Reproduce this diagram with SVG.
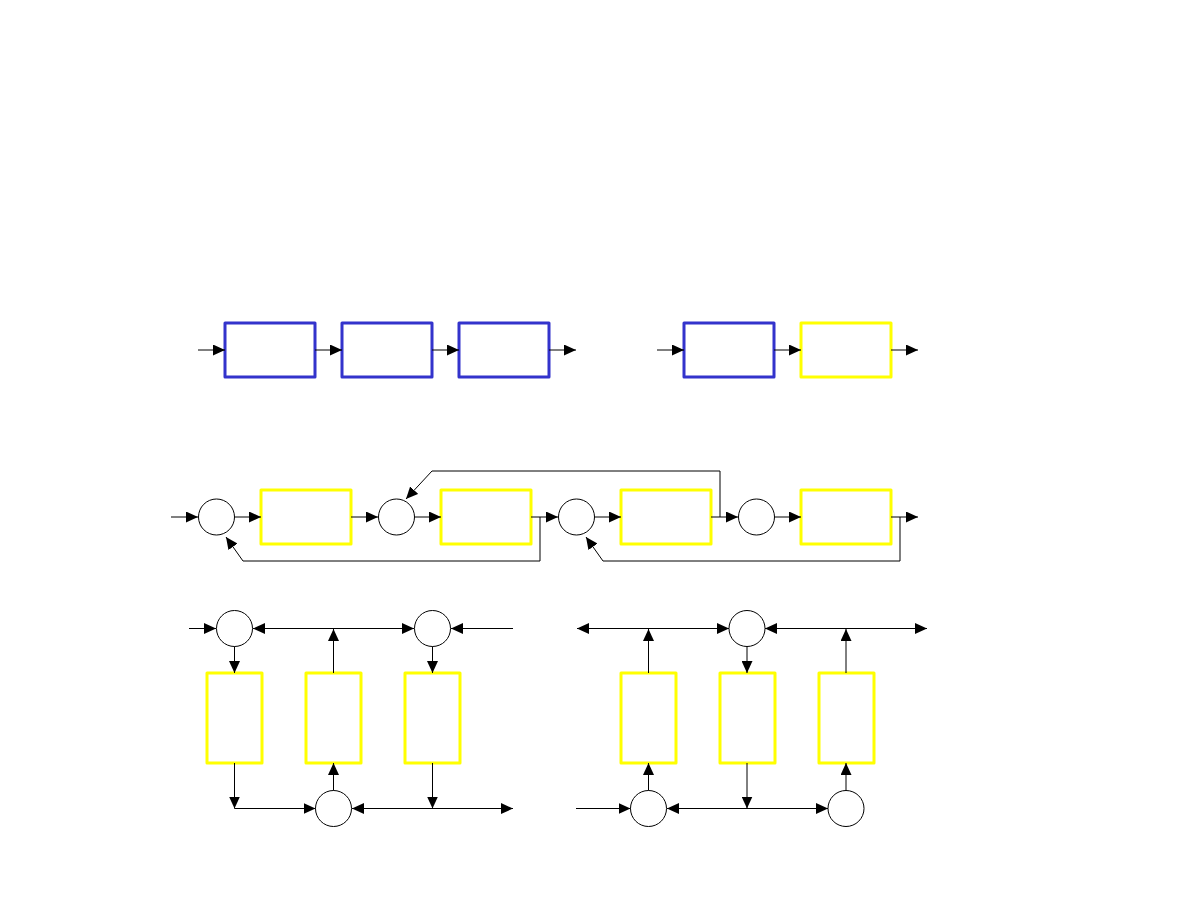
<svg xmlns="http://www.w3.org/2000/svg" width="1188" height="918" viewBox="0 0 1188 918">
<style>
.b{fill:#fff;stroke:#3333CC;stroke-width:3;stroke-linejoin:round}
.y{fill:#fff;stroke:#FFFF00;stroke-width:3;stroke-linejoin:round}
.c{fill:#fff;stroke:#000;stroke-width:1}
.l{fill:none;stroke:#000;stroke-width:1;marker-end:url(#ah)}
.d{fill:none;stroke:#000;stroke-width:1;marker-start:url(#ah);marker-end:url(#ah)}
.p{fill:none;stroke:#000;stroke-width:1}
</style>
<defs>
<marker id="ah" viewBox="0 0 12 11" refX="12" refY="5.5" markerWidth="12" markerHeight="11" markerUnits="userSpaceOnUse" orient="auto-start-reverse">
<path d="M0,0 L12,5.5 L0,11 z" fill="#000"/>
</marker>
</defs>
<rect width="1188" height="918" fill="#fff"/>
<g id="row1-nodes">
<rect id="r1b1" class="b" x="225" y="323" width="90" height="54"/>
<rect id="r1b2" class="b" x="342" y="323" width="90" height="54"/>
<rect id="r1b3" class="b" x="459" y="323" width="90" height="54"/>
<rect id="r1b4" class="b" x="684" y="323" width="90" height="54"/>
<rect id="r1b5" class="y" x="801" y="323" width="90" height="54"/>
</g>
<g id="row2-nodes">
<circle id="r2c1" class="c" cx="216.5" cy="517" r="18"/>
<rect id="r2b1" class="y" x="261" y="490" width="90" height="54"/>
<circle id="r2c2" class="c" cx="396.5" cy="517" r="18"/>
<rect id="r2b2" class="y" x="441" y="490" width="90" height="54"/>
<circle id="r2c3" class="c" cx="576.5" cy="517" r="18"/>
<rect id="r2b3" class="y" x="621" y="490" width="90" height="54"/>
<circle id="r2c4" class="c" cx="756.5" cy="517" r="18"/>
<rect id="r2b4" class="y" x="801" y="490" width="90" height="54"/>
</g>
<g id="row3-left-nodes">
<circle id="r3lc1" class="c" cx="234.5" cy="628.5" r="18"/>
<circle id="r3lc2" class="c" cx="432.5" cy="628.5" r="18"/>
<circle id="r3lc3" class="c" cx="333.5" cy="808.5" r="18"/>
<rect id="r3lb1" class="y" x="207" y="673" width="55" height="90"/>
<rect id="r3lb2" class="y" x="306" y="673" width="55" height="90"/>
<rect id="r3lb3" class="y" x="405" y="673" width="55" height="90"/>
</g>
<g id="row3-right-nodes">
<circle id="r3rc1" class="c" cx="747" cy="628.5" r="18"/>
<circle id="r3rc2" class="c" cx="648.5" cy="808.5" r="18"/>
<circle id="r3rc3" class="c" cx="846" cy="808.5" r="18"/>
<rect id="r3rb1" class="y" x="621" y="673" width="55" height="90"/>
<rect id="r3rb2" class="y" x="720" y="673" width="55" height="90"/>
<rect id="r3rb3" class="y" x="819" y="673" width="55" height="90"/>
</g>
<g id="connectors">
<line class="l" x1="198" y1="350" x2="225" y2="350"/>
<line class="l" x1="315" y1="350" x2="342" y2="350"/>
<line class="l" x1="432" y1="350" x2="459" y2="350"/>
<line class="l" x1="549" y1="350" x2="576" y2="350"/>
<line class="l" x1="657" y1="350" x2="684" y2="350"/>
<line class="l" x1="774" y1="350" x2="801" y2="350"/>
<line class="l" x1="891" y1="350" x2="918" y2="350"/>

<line class="l" x1="171" y1="517" x2="198" y2="517"/>
<line class="l" x1="235" y1="517" x2="261" y2="517"/>
<line class="l" x1="351" y1="517" x2="378" y2="517"/>
<line class="l" x1="415" y1="517" x2="441" y2="517"/>
<line class="l" x1="531" y1="517" x2="558" y2="517"/>
<line class="l" x1="595" y1="517" x2="621" y2="517"/>
<line class="l" x1="711" y1="517" x2="738" y2="517"/>
<line class="l" x1="775" y1="517" x2="801" y2="517"/>
<line class="l" x1="891" y1="517" x2="918" y2="517"/>
<polyline class="l" points="540,517 540,561 243,561 226,537"/>
<polyline class="l" points="720,517 720,471 432,471 406,499"/>
<polyline class="l" points="900,517 900,561 603,561 586,537"/>

<line class="l" x1="189" y1="628.5" x2="216" y2="628.5"/>
<line class="d" x1="253" y1="628.5" x2="414" y2="628.5"/>
<line class="l" x1="333.5" y1="673" x2="333.5" y2="629"/>
<line class="l" x1="513" y1="628.5" x2="451" y2="628.5"/>
<line class="l" x1="234.5" y1="646.5" x2="234.5" y2="673"/>
<line class="l" x1="432.5" y1="646.5" x2="432.5" y2="673"/>
<line class="l" x1="234.5" y1="763" x2="234.5" y2="808.5"/>
<line class="l" x1="234.5" y1="808.5" x2="315.5" y2="808.5"/>
<line class="l" x1="333.5" y1="790.5" x2="333.5" y2="763"/>
<line class="d" x1="352" y1="808.5" x2="513" y2="808.5"/>
<line class="l" x1="432.5" y1="763" x2="432.5" y2="808.5"/>

<line class="d" x1="577" y1="628.5" x2="729" y2="628.5"/>
<line class="l" x1="648.5" y1="673" x2="648.5" y2="629"/>
<line class="d" x1="765" y1="628.5" x2="927" y2="628.5"/>
<line class="l" x1="846" y1="673" x2="846" y2="629"/>
<line class="l" x1="747" y1="646.5" x2="747" y2="673"/>
<line class="l" x1="576" y1="808.5" x2="630.5" y2="808.5"/>
<line class="l" x1="648.5" y1="790.5" x2="648.5" y2="763"/>
<line class="d" x1="667" y1="808.5" x2="828" y2="808.5"/>
<line class="l" x1="747" y1="763" x2="747" y2="808.5"/>
<line class="l" x1="846" y1="790.5" x2="846" y2="763"/>
</g>
</svg>
